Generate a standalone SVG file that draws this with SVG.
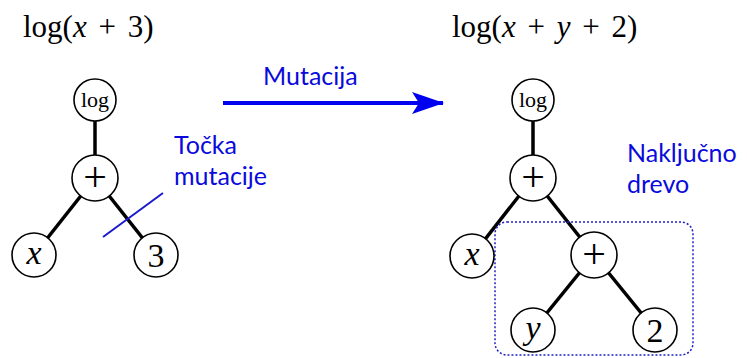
<svg xmlns="http://www.w3.org/2000/svg" width="747" height="358" viewBox="0 0 747 358">
<style>
.edge{stroke:#000;stroke-width:3.5;fill:none}
.node circle{fill:#fff;stroke:#000;stroke-width:1.6}
.lbl{font-family:"Liberation Serif",serif;fill:#000;text-anchor:middle}
.title{font-family:"Liberation Serif",serif;font-size:31px;fill:#000;word-spacing:4px}
.note{font-family:Lato,"Liberation Sans",sans-serif;font-size:25px;fill:#0a0adc}
</style>
<defs>
<marker id="ah" viewBox="0 0 32 22" refX="31" refY="11" markerWidth="32" markerHeight="22" markerUnits="userSpaceOnUse" orient="auto">
<path d="M0,0 L32,11 L0,22 L7,11 Z" fill="#0000f0"/>
</marker>
</defs>
<rect width="747" height="358" fill="#fff"/>
<text class="title" x="23" y="37">log(<tspan font-style="italic">x</tspan> + 3)</text>
<text class="title" x="452" y="37">log(<tspan font-style="italic">x</tspan> + <tspan font-style="italic">y</tspan> + 2)</text>
<g id="connectors">
<line class="edge" x1="95" y1="100" x2="95" y2="178"/>
<line class="edge" x1="95" y1="178" x2="34" y2="255"/>
<line class="edge" x1="95" y1="178" x2="156" y2="255"/>
<line class="edge" x1="533" y1="100" x2="533" y2="178"/>
<line class="edge" x1="533" y1="178" x2="472" y2="256"/>
<line class="edge" x1="533" y1="178" x2="594" y2="255"/>
<line class="edge" x1="594" y1="255" x2="533" y2="330"/>
<line class="edge" x1="594" y1="255" x2="655" y2="330"/>
<line x1="223" y1="103" x2="443" y2="103" stroke="#0000f0" stroke-width="4" marker-end="url(#ah)"/>
<line x1="103" y1="237" x2="163" y2="193" stroke="#1a1acc" stroke-width="2"/>
</g>
<g id="subtree-box"><rect x="495" y="222" width="198" height="133" rx="12" fill="none" stroke="#2020c8" stroke-width="1.5" stroke-dasharray="2 2"/></g>
<g id="n-log-l" class="node"><circle cx="95" cy="100" r="21"/><text class="lbl" x="95" y="107" font-size="22">log</text></g>
<g id="n-plus-l" class="node"><circle cx="95" cy="178" r="23"/><text class="lbl" x="95" y="191" font-size="42">+</text></g>
<g id="n-x-l" class="node"><circle cx="34" cy="255" r="22"/><text class="lbl" x="34" y="264" font-size="34" font-style="italic">x</text></g>
<g id="n-3-l" class="node"><circle cx="156" cy="255" r="22"/><text class="lbl" x="156" y="267" font-size="34">3</text></g>
<g id="n-log-r" class="node"><circle cx="533" cy="100" r="21"/><text class="lbl" x="533" y="107" font-size="22">log</text></g>
<g id="n-plus-r" class="node"><circle cx="533" cy="178" r="23"/><text class="lbl" x="533" y="191" font-size="42">+</text></g>
<g id="n-x-r" class="node"><circle cx="472" cy="256" r="22"/><text class="lbl" x="472" y="265" font-size="34" font-style="italic">x</text></g>
<g id="n-plus2-r" class="node"><circle cx="594" cy="255" r="23"/><text class="lbl" x="594" y="268" font-size="42">+</text></g>
<g id="n-y-r" class="node"><circle cx="533" cy="330" r="22"/><text class="lbl" x="533" y="339" font-size="34" font-style="italic">y</text></g>
<g id="n-2-r" class="node"><circle cx="655" cy="330" r="22"/><text class="lbl" x="655" y="342" font-size="34">2</text></g>
<text class="note" x="263" y="85" font-size="27">Mutacija</text>
<text class="note" x="174" y="154">Točka</text>
<text class="note" x="174" y="185">mutacije</text>
<text class="note" x="627" y="162">Naključno</text>
<text class="note" x="627" y="193">drevo</text>
</svg>
